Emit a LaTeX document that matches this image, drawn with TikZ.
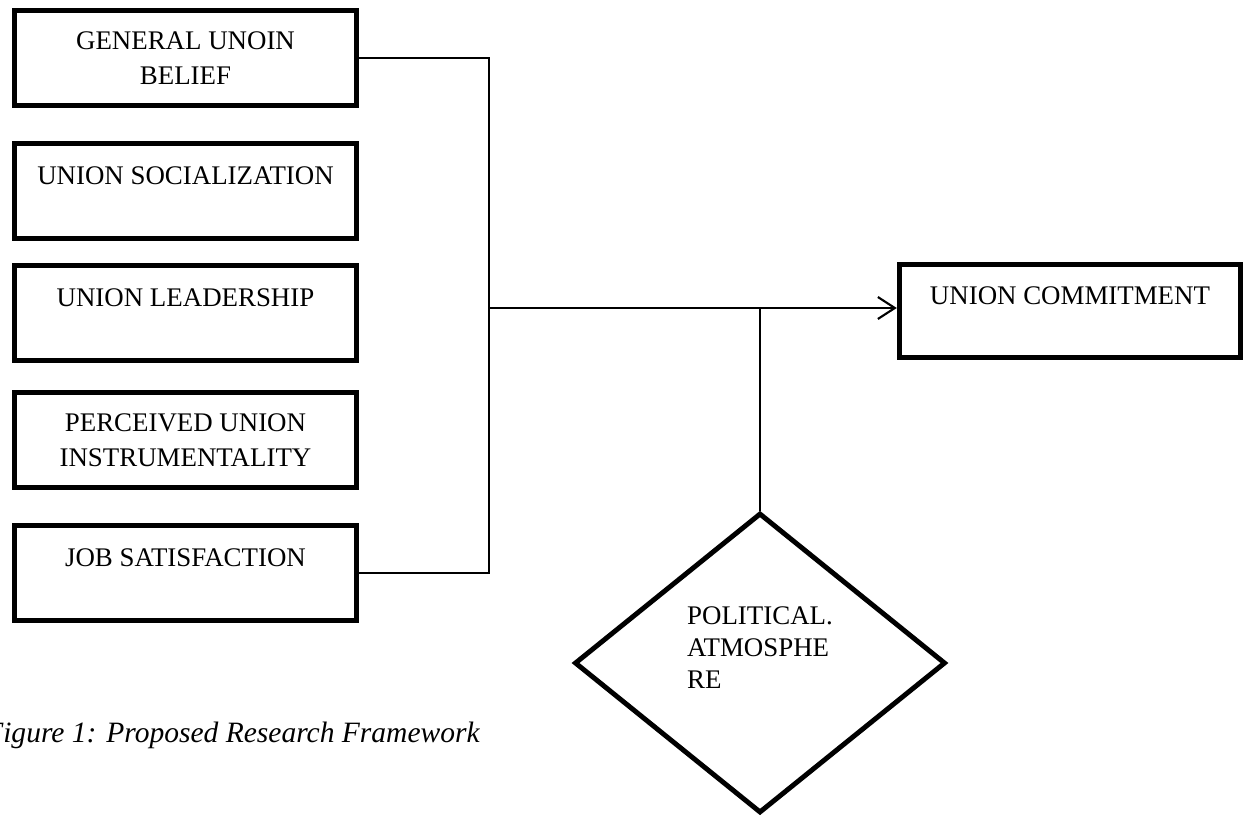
\documentclass[tikz,border=0pt]{standalone}
\usepackage{fontspec}
\setmainfont{Liberation Serif}
\usepackage{tikz}
\usetikzlibrary{shapes.geometric,arrows.meta,positioning,calc}
\tikzset{
  ivbox/.style={rectangle,draw=black,line width=2.8pt,fill=white,
                minimum width=6.84cm,minimum height=1.9cm,inner sep=0pt,
                font=\fontsize{15.3}{19.9}\selectfont,align=center},
  twol/.style={},
  onel/.style={text height=0.4cm,text depth=0.65cm},
  dvbox/.style={ivbox,onel,minimum width=6.83cm,minimum height=1.87cm},
  mdbox/.style={diamond,draw=black,line width=2.8pt,fill=white,
                minimum width=7.42cm,minimum height=6cm,inner sep=0pt,
                font=\fontsize{15.3}{18.2}\selectfont,align=left,
                text height=1.8cm,text depth=0.77cm},
  conn/.style={line width=1.2pt,color=black},
  arr/.style={conn,-{Straight Barb[length=3.4mm,width=4.4mm,line width=1.2pt]}},
  capt/.style={font=\fontsize{16.8}{20}\selectfont\itshape,inner sep=0pt},
}

\begin{document}
\begin{tikzpicture}
  \useasboundingbox (0,0) rectangle (24.9,-16.3);
  % predictors on the left
  \foreach \i/\y/\st/\lbl in {
    1/58/twol/GENERAL UNOIN\\BELIEF,
    2/191/onel/UNION SOCIALIZATION,
    3/312.5/onel/UNION LEADERSHIP,
    4/440/twol/PERCEIVED UNION\\INSTRUMENTALITY,
    5/572.5/onel/JOB SATISFACTION}{
    \node[ivbox,\st] (f\i) at (3.71,-\y*0.02) {\lbl};
  }
  % outcome and moderator
  \node[dvbox] (uc) at (21.4,-6.22) {UNION COMMITMENT};
  \node[mdbox] (pa) at (15.2,-13.26) {POLITICAL.\\ATMOSPHE\\RE};
  \coordinate (bus) at (9.78,-6.16);
  % links
  \draw[conn] (f1.east) -| (bus);
  \draw[conn] (f5.east) -| (bus);
  \draw[arr] (bus) -- (bus -| uc.west);
  \draw[conn] (pa.north) -- (pa.north |- bus);
  \node[capt,anchor=base east] (cap) at (9.6,-14.84)
    {Figure 1: Proposed Research Framework};
\end{tikzpicture}
\end{document}
